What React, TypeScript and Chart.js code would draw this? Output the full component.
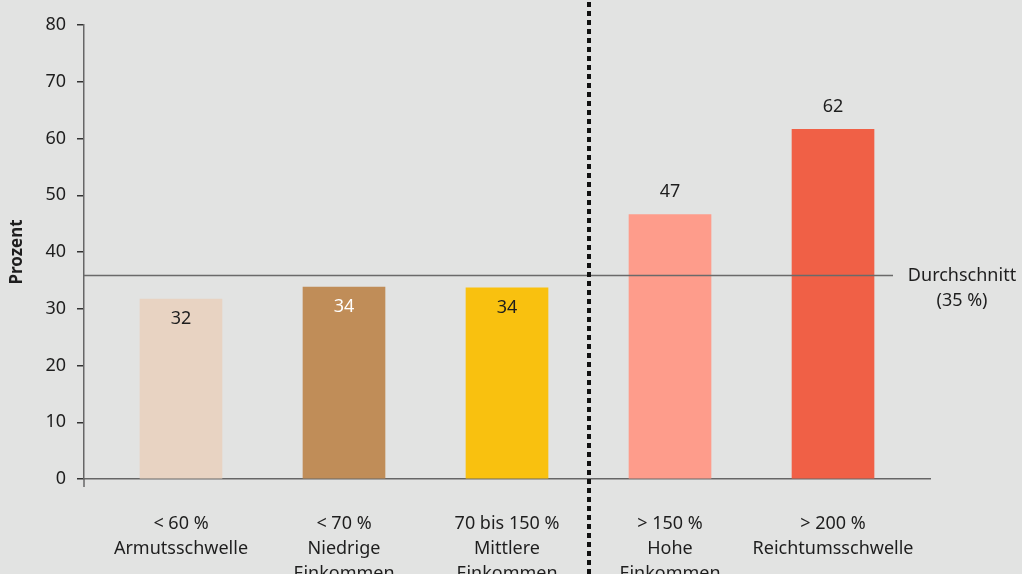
import React, { useEffect, useRef } from 'react';
import { Chart, registerables } from 'chart.js';

Chart.register(...registerables);

const categories: string[][] = [
  ['< 60 %', 'Armutsschwelle'],
  ['< 70 %', 'Niedrige', 'Einkommen'],
  ['70 bis 150 %', 'Mittlere', 'Einkommen'],
  ['> 150 %', 'Hohe', 'Einkommen'],
  ['> 200 %', 'Reichtumsschwelle'],
];
const values: number[] = [31.7, 33.8, 33.7, 46.6, 61.6];
const valueLabels: string[] = ['32', '34', '34', '47', '62'];
const averageValue = 36;
const averageLabel: string[] = ['Durchschnitt', '(35 %)'];
const yTickValues: number[] = [0, 10, 20, 30, 40, 50, 60, 70, 80];
const yTitle = 'Prozent';
const dividerPosition = 2.5;

const barColors = ['#e8d3c2', '#c08d58', '#f9c10f', '#fe9c8b', '#f06046'];
const labelColors = ['#1e1e1e', '#ffffff', '#1e1e1e', '#1e1e1e', '#1e1e1e'];
const BG = '#e2e3e2';
const FONT = '"Noto Sans", sans-serif';
const TEXT = '#1e1e1e';

const overlayPlugin = {
  id: 'overlay',
  beforeDraw(chart: any) {
    const ctx = chart.ctx;
    ctx.save();
    ctx.fillStyle = BG;
    ctx.fillRect(0, 0, chart.width, chart.height);
    ctx.restore();
  },
  afterDatasetsDraw(chart: any) {
    const ctx = chart.ctx;
    const { left, right, bottom } = chart.chartArea;
    const xs = chart.scales.x;
    const ys = chart.scales.y;
    ctx.save();
    // y axis extension below zero
    ctx.strokeStyle = '#666666';
    ctx.lineWidth = 1.5;
    ctx.beginPath();
    ctx.moveTo(left, bottom);
    ctx.lineTo(left, bottom + 8);
    ctx.stroke();

    // average line
    const ay = Math.round(ys.getPixelForValue(averageValue)) + 0.5;
    ctx.strokeStyle = '#6a6a6a';
    ctx.lineWidth = 1.5;
    ctx.beginPath();
    ctx.moveTo(left, ay);
    ctx.lineTo(right - 37, ay);
    ctx.stroke();

    // average label
    ctx.fillStyle = TEXT;
    ctx.font = `18px ${FONT}`;
    ctx.textAlign = 'center';
    ctx.textBaseline = 'middle';
    averageLabel.forEach((t, i) => {
      ctx.fillText(t, right + 32, ay + i * 25);
    });

    // divider
    const dx = Math.round(xs.getPixelForValue(dividerPosition));
    ctx.strokeStyle = '#111111';
    ctx.lineWidth = 4;
    ctx.setLineDash([5, 4]);
    ctx.beginPath();
    ctx.moveTo(dx, 2);
    ctx.lineTo(dx, chart.height);
    ctx.stroke();
    ctx.setLineDash([]);

    // value labels
    const meta = chart.getDatasetMeta(0);
    ctx.font = `18px ${FONT}`;
    meta.data.forEach((bar: any, i: number) => {
      const inside = values[i] < averageValue;
      ctx.fillStyle = labelColors[i];
      const y = inside ? bar.y + 20 : bar.y - 23;
      ctx.fillText(valueLabels[i], bar.x, y);
    });
    ctx.restore();
  },
};

export default function App() {
  const ref = useRef<HTMLCanvasElement | null>(null);
  useEffect(() => {
    if (!ref.current) return;
    const chart = new Chart(ref.current, {
      type: 'bar',
      data: {
        datasets: [
          {
            data: values.map((v, i) => ({ x: i, y: v })),
            backgroundColor: barColors,
            borderWidth: 0,
            barThickness: 82,
          },
        ],
      },
      options: {
        animation: false,
        responsive: false,
        devicePixelRatio: 1,
        layout: { padding: { top: 25, right: 92, left: 0, bottom: 0 } },
        plugins: {
          legend: { display: false },
          tooltip: { enabled: false },
        },
        scales: {
          x: {
            type: 'linear',
            offset: false,
            min: -0.595,
            max: 4.595,
            afterBuildTicks: (scale: any) => {
              scale.ticks = categories.map((_, i) => ({ value: i }));
            },
            afterFit: (scale: any) => {
              scale.height = 95;
            },
            grid: { display: false, offset: false },
            border: { display: true, color: '#666666', width: 1.5 },
            ticks: {
              autoSkip: false,
              maxRotation: 0,
              padding: 24,
              color: TEXT,
              font: { family: FONT, size: 18, lineHeight: 1.39 },
              callback: (v: any) => categories[v] ?? '',
            },
          },
          y: {
            min: 0,
            max: 80,
            afterBuildTicks: (scale: any) => {
              scale.ticks = yTickValues.map((v) => ({ value: v }));
            },
            afterFit: (scale: any) => {
              scale.width = 84;
            },
            grid: {
              drawOnChartArea: false,
              drawTicks: true,
              tickLength: 7,
              color: '#333333',
              lineWidth: 1.5,
            },
            border: { display: true, color: '#666666', width: 1.5 },
            ticks: {
              padding: 11,
              color: TEXT,
              font: { family: FONT, size: 18 },
            },
            title: {
              display: true,
              text: yTitle,
              color: TEXT,
              font: { family: FONT, size: 17, weight: 'bold' },
              padding: { top: 7, bottom: 0 },
            },
          },
        },
      },
      plugins: [overlayPlugin],
    } as any);
    return () => chart.destroy();
  }, []);
  return (
    <div style={{ position: 'fixed', left: 0, top: 0, width: 1022, height: 574, background: BG }}>
      <canvas ref={ref} width={1022} height={574} style={{ display: 'block', width: 1022, height: 574 }} />
    </div>
  );
}
